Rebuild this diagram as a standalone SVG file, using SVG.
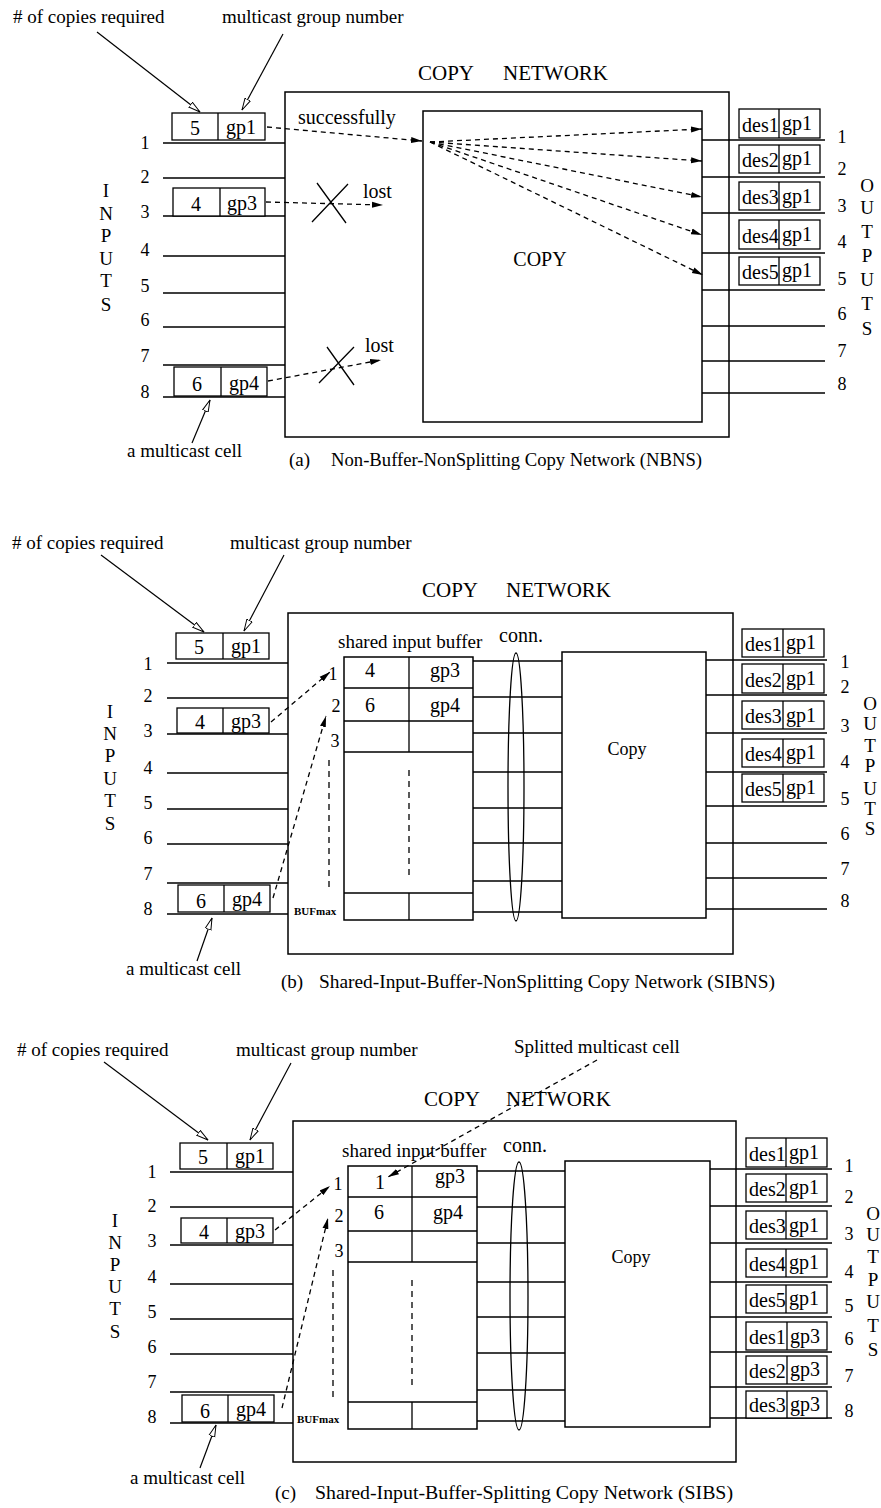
<svg xmlns="http://www.w3.org/2000/svg" width="881" height="1508" viewBox="0 0 881 1508">
<style>
text{font-family:"Liberation Serif","Times New Roman",serif;fill:#000}
.f18{font-size:18px}.f19{font-size:19px}.f20{font-size:20px}.f21{font-size:21px}
.m{text-anchor:middle}
.buf{font-size:11px;font-weight:bold}
.ln{stroke:#000;stroke-width:1.3;fill:none}
.bx{stroke:#000;stroke-width:1.5;fill:none}
.cl{stroke:#000;stroke-width:1.3;fill:#fff}
.dl{stroke:#000;stroke-width:1.3;fill:none;stroke-dasharray:5 4}
.dv{stroke:#000;stroke-width:1.3;fill:none;stroke-dasharray:6 5}
.ar{stroke:#000;stroke-width:1.2;fill:none}
</style>
<defs>
<marker id="ah" markerUnits="userSpaceOnUse" markerWidth="12" markerHeight="8" refX="11" refY="4" orient="auto"><path d="M0,1 L11,4 L0,7 z" fill="#000"/></marker>
<marker id="oh" markerUnits="userSpaceOnUse" markerWidth="13" markerHeight="8" refX="12" refY="4" orient="auto"><path d="M0,1 L12,4 L0,7 z" fill="#fff" stroke="#000" stroke-width="1"/></marker>
</defs>
<rect width="881" height="1508" fill="#fff"/>

<!-- ================= PANEL A ================= -->
<g id="a-frame">
<text class="f19" x="13" y="23"># of copies required</text>
<text class="f19" x="222" y="23">multicast group number</text>
<text class="f21" x="418" y="80">COPY</text>
<text class="f21" x="503" y="80">NETWORK</text>
<rect class="bx" x="285" y="92" width="444" height="345"/>
<text class="f19" x="127" y="457">a multicast cell</text>
<text class="f19" x="289" y="466">(a)</text>
<text class="f19" x="331" y="466" textLength="371" lengthAdjust="spacingAndGlyphs">Non-Buffer-NonSplitting Copy Network (NBNS)</text>
</g>
<g id="a-copy">
<rect class="bx" x="423" y="111" width="279" height="311"/>
<text class="f20 m" x="540" y="266">COPY</text>
</g>
<g id="a-inputs">
<path class="ln" d="M163,143H285M163,178H285M163,216H285M163,256H285M163,293H285M163,327H285M163,365H285M163,397H285"/>
<text class="f18 m" x="145" y="149">1</text><text class="f18 m" x="145" y="183">2</text>
<text class="f18 m" x="145" y="218">3</text><text class="f18 m" x="145" y="256">4</text>
<text class="f18 m" x="145" y="292">5</text><text class="f18 m" x="145" y="326">6</text>
<text class="f18 m" x="145" y="362">7</text><text class="f18 m" x="145" y="398">8</text>
<text class="f19 m" x="106" y="197">I</text><text class="f19 m" x="106" y="220">N</text>
<text class="f19 m" x="106" y="242">P</text><text class="f19 m" x="106" y="265">U</text>
<text class="f19 m" x="106" y="287">T</text><text class="f19 m" x="106" y="311">S</text>
</g>
<g id="a-cell1"><rect class="cl" x="172" y="113" width="93" height="27"/><path class="ln" d="M218,113V140"/>
<text class="f20 m" x="195" y="135">5</text><text class="f20 m" x="241" y="134">gp1</text></g>
<g id="a-cell3"><rect class="cl" x="173" y="188" width="92" height="28"/><path class="ln" d="M220,188V216"/>
<text class="f20 m" x="196" y="211">4</text><text class="f20 m" x="242" y="210">gp3</text></g>
<g id="a-cell8"><rect class="cl" x="174" y="367" width="93" height="29"/><path class="ln" d="M221,367V396"/>
<text class="f20 m" x="197" y="391">6</text><text class="f20 m" x="244" y="390">gp4</text></g>
<g id="a-marks">
<text class="f20" x="298" y="124">successfully</text>
<path class="ln" d="M312,222L348,184M317,183L346,223"/>
<text class="f20" x="363" y="198">lost</text>
<path class="ln" d="M319,383L354,347M327,347L354,385"/>
<text class="f20" x="365" y="352">lost</text>
</g>
<g id="a-outputs">
<path class="ln" d="M702,140H825M702,177H825M702,213H825M702,253H825M702,290H825M702,326H825M702,361H825M702,393H825"/>
<g><rect class="cl" x="739" y="109" width="81" height="29"/><path class="ln" d="M779,109V138"/><text class="f20" x="742" y="132">des1</text><text class="f20" x="782" y="130">gp1</text></g>
<g><rect class="cl" x="739" y="145" width="81" height="28"/><path class="ln" d="M779,145V173"/><text class="f20" x="742" y="167">des2</text><text class="f20" x="782" y="165">gp1</text></g>
<g><rect class="cl" x="739" y="182" width="81" height="28"/><path class="ln" d="M779,182V210"/><text class="f20" x="742" y="204">des3</text><text class="f20" x="782" y="203">gp1</text></g>
<g><rect class="cl" x="739" y="220" width="81" height="29"/><path class="ln" d="M779,220V249"/><text class="f20" x="742" y="243">des4</text><text class="f20" x="782" y="241">gp1</text></g>
<g><rect class="cl" x="739" y="257" width="81" height="28"/><path class="ln" d="M779,257V285"/><text class="f20" x="742" y="279">des5</text><text class="f20" x="782" y="277">gp1</text></g>
<text class="f18 m" x="842" y="143">1</text><text class="f18 m" x="842" y="175">2</text>
<text class="f18 m" x="842" y="212">3</text><text class="f18 m" x="842" y="248">4</text>
<text class="f18 m" x="842" y="285">5</text><text class="f18 m" x="842" y="320">6</text>
<text class="f18 m" x="842" y="357">7</text><text class="f18 m" x="842" y="390">8</text>
<text class="f19 m" x="867" y="192">O</text><text class="f19 m" x="867" y="214">U</text>
<text class="f19 m" x="867" y="238">T</text><text class="f19 m" x="867" y="262">P</text>
<text class="f19 m" x="867" y="286">U</text><text class="f19 m" x="867" y="310">T</text>
<text class="f19 m" x="867" y="335">S</text>
</g>

<!-- ================= PANEL B ================= -->
<g id="b-frame">
<text class="f19" x="12" y="549"># of copies required</text>
<text class="f19" x="230" y="549">multicast group number</text>
<text class="f21" x="422" y="597">COPY</text>
<text class="f21" x="506" y="597">NETWORK</text>
<rect class="bx" x="288" y="613" width="445" height="341"/>
<text class="f19" x="126" y="975">a multicast cell</text>
<text class="f19" x="281" y="988">(b)</text>
<text class="f19" x="319" y="988" textLength="456" lengthAdjust="spacingAndGlyphs">Shared-Input-Buffer-NonSplitting Copy Network (SIBNS)</text>
</g>
<g id="b-inputs">
<path class="ln" d="M167,663H288M167,698H288M167,734H288M167,773H288M167,809H288M167,844H288M167,883H288M167,914H288"/>
<text class="f18 m" x="148" y="670">1</text><text class="f18 m" x="148" y="702">2</text>
<text class="f18 m" x="148" y="737">3</text><text class="f18 m" x="148" y="774">4</text>
<text class="f18 m" x="148" y="809">5</text><text class="f18 m" x="148" y="844">6</text>
<text class="f18 m" x="148" y="880">7</text><text class="f18 m" x="148" y="915">8</text>
<text class="f19 m" x="110" y="718">I</text><text class="f19 m" x="110" y="740">N</text>
<text class="f19 m" x="110" y="762">P</text><text class="f19 m" x="110" y="785">U</text>
<text class="f19 m" x="110" y="807">T</text><text class="f19 m" x="110" y="830">S</text>
</g>
<g id="b-cell1"><rect class="cl" x="176" y="633" width="93" height="26"/><path class="ln" d="M223,633V659"/>
<text class="f20 m" x="199" y="654">5</text><text class="f20 m" x="246" y="653">gp1</text></g>
<g id="b-cell3"><rect class="cl" x="177" y="708" width="92" height="25"/><path class="ln" d="M223,708V733"/>
<text class="f20 m" x="200" y="729">4</text><text class="f20 m" x="246" y="728">gp3</text></g>
<g id="b-cell8"><rect class="cl" x="178" y="885" width="92" height="27"/><path class="ln" d="M224,885V912"/>
<text class="f20 m" x="201" y="908">6</text><text class="f20 m" x="247" y="906">gp4</text></g>
<g id="b-buffer">
<text class="f19" x="338" y="648">shared input buffer</text>
<rect class="bx" x="344" y="657" width="129" height="263"/>
<path class="ln" d="M344,688H473M344,721H473M344,752H473M344,893H473M409,657V752M409,893V920"/>
<path class="dv" d="M409,770V878M329,760V892"/>
<text class="f18 m" x="333" y="680">1</text><text class="f18 m" x="336" y="712">2</text><text class="f18 m" x="335" y="747">3</text>
<text class="f20 m" x="370" y="677">4</text><text class="f20 m" x="445" y="677">gp3</text>
<text class="f20 m" x="370" y="712">6</text><text class="f20 m" x="445" y="712">gp4</text>
<text class="buf" x="294" y="915">BUFmax</text>
</g>
<g id="b-conn">
<path class="ln" d="M473,661H562M473,697H562M473,733H562M473,772H562M473,808H562M473,843H562M473,881H562M473,912H562"/>
<ellipse class="ln" cx="516" cy="787" rx="8" ry="134"/>
<text class="f20" x="499" y="642">conn.</text>
</g>
<g id="b-copy">
<rect class="bx" x="562" y="652" width="144" height="266"/>
<text class="f18 m" x="627" y="755">Copy</text>
</g>
<g id="b-outputs">
<path class="ln" d="M706,660H827M706,695H827M706,733H827M706,772H827M706,806H827M706,843H827M706,878H827M706,909H827"/>
<g><rect class="cl" x="742" y="629" width="82" height="28"/><path class="ln" d="M783,629V657"/><text class="f20" x="745" y="651">des1</text><text class="f20" x="786" y="649">gp1</text></g>
<g><rect class="cl" x="742" y="664" width="82" height="29"/><path class="ln" d="M783,664V693"/><text class="f20" x="745" y="687">des2</text><text class="f20" x="786" y="685">gp1</text></g>
<g><rect class="cl" x="742" y="701" width="82" height="28"/><path class="ln" d="M783,701V729"/><text class="f20" x="745" y="723">des3</text><text class="f20" x="786" y="722">gp1</text></g>
<g><rect class="cl" x="742" y="739" width="82" height="28"/><path class="ln" d="M783,739V767"/><text class="f20" x="745" y="761">des4</text><text class="f20" x="786" y="759">gp1</text></g>
<g><rect class="cl" x="742" y="774" width="82" height="28"/><path class="ln" d="M783,774V802"/><text class="f20" x="745" y="796">des5</text><text class="f20" x="786" y="794">gp1</text></g>
<text class="f18 m" x="845" y="668">1</text><text class="f18 m" x="845" y="693">2</text>
<text class="f18 m" x="845" y="732">3</text><text class="f18 m" x="845" y="768">4</text>
<text class="f18 m" x="845" y="805">5</text><text class="f18 m" x="845" y="840">6</text>
<text class="f18 m" x="845" y="875">7</text><text class="f18 m" x="845" y="907">8</text>
<text class="f19 m" x="870" y="710">O</text><text class="f19 m" x="870" y="730">U</text>
<text class="f19 m" x="870" y="752">T</text><text class="f19 m" x="870" y="772">P</text>
<text class="f19 m" x="870" y="795">U</text><text class="f19 m" x="870" y="815">T</text>
<text class="f19 m" x="870" y="835">S</text>
</g>

<!-- ================= PANEL C ================= -->
<g id="c-frame">
<text class="f19" x="17" y="1056"># of copies required</text>
<text class="f19" x="236" y="1056">multicast group number</text>
<text class="f19" x="514" y="1053">Splitted multicast cell</text>
<text class="f21" x="424" y="1106">COPY</text>
<text class="f21" x="506" y="1106">NETWORK</text>
<rect class="bx" x="293" y="1121" width="443" height="341"/>
<text class="f19" x="130" y="1484">a multicast cell</text>
<text class="f19" x="275" y="1499">(c)</text>
<text class="f19" x="315" y="1499" textLength="418" lengthAdjust="spacingAndGlyphs">Shared-Input-Buffer-Splitting Copy Network (SIBS)</text>
</g>
<g id="c-inputs">
<path class="ln" d="M170,1172H293M170,1207H293M170,1245H293M170,1284H293M170,1319H293M170,1354H293M170,1392H293M170,1423H293"/>
<text class="f18 m" x="152" y="1178">1</text><text class="f18 m" x="152" y="1212">2</text>
<text class="f18 m" x="152" y="1247">3</text><text class="f18 m" x="152" y="1283">4</text>
<text class="f18 m" x="152" y="1318">5</text><text class="f18 m" x="152" y="1353">6</text>
<text class="f18 m" x="152" y="1388">7</text><text class="f18 m" x="152" y="1423">8</text>
<text class="f19 m" x="115" y="1227">I</text><text class="f19 m" x="115" y="1249">N</text>
<text class="f19 m" x="115" y="1271">P</text><text class="f19 m" x="115" y="1293">U</text>
<text class="f19 m" x="115" y="1315">T</text><text class="f19 m" x="115" y="1338">S</text>
</g>
<g id="c-cell1"><rect class="cl" x="180" y="1143" width="93" height="26"/><path class="ln" d="M227,1143V1169"/>
<text class="f20 m" x="203" y="1164">5</text><text class="f20 m" x="250" y="1163">gp1</text></g>
<g id="c-cell3"><rect class="cl" x="181" y="1218" width="92" height="25"/><path class="ln" d="M227,1218V1243"/>
<text class="f20 m" x="204" y="1239">4</text><text class="f20 m" x="250" y="1238">gp3</text></g>
<g id="c-cell8"><rect class="cl" x="182" y="1395" width="92" height="27"/><path class="ln" d="M228,1395V1422"/>
<text class="f20 m" x="205" y="1418">6</text><text class="f20 m" x="251" y="1416">gp4</text></g>
<g id="c-buffer">
<text class="f19" x="342" y="1157">shared input buffer</text>
<rect class="bx" x="348" y="1166" width="129" height="263"/>
<path class="ln" d="M348,1197H477M348,1231H477M348,1262H477M348,1402H477M412,1166V1262M412,1402V1429"/>
<path class="dv" d="M412,1280V1387M333,1270V1400"/>
<text class="f18 m" x="338" y="1190">1</text><text class="f18 m" x="339" y="1222">2</text><text class="f18 m" x="339" y="1257">3</text>
<text class="f20 m" x="380" y="1189">1</text><text class="f20 m" x="450" y="1183">gp3</text>
<text class="f20 m" x="379" y="1219">6</text><text class="f20 m" x="448" y="1219">gp4</text>
<text class="buf" x="297" y="1423">BUFmax</text>
</g>
<g id="c-conn">
<path class="ln" d="M477,1171H565M477,1207H565M477,1243H565M477,1282H565M477,1317H565M477,1353H565M477,1390H565M477,1421H565"/>
<ellipse class="ln" cx="519" cy="1296" rx="9" ry="134"/>
<text class="f20" x="503" y="1152">conn.</text>
</g>
<g id="c-copy">
<rect class="bx" x="565" y="1161" width="145" height="266"/>
<text class="f18 m" x="631" y="1263">Copy</text>
</g>
<g id="c-outputs">
<path class="ln" d="M710,1169H832M710,1206H832M710,1243H832M710,1282H832M710,1317H832M710,1352H832M710,1387H832M710,1418H832"/>
<g><rect class="cl" x="746" y="1138" width="81" height="29"/><path class="ln" d="M786,1138V1167"/><text class="f20" x="749" y="1161">des1</text><text class="f20" x="789" y="1159">gp1</text></g>
<g><rect class="cl" x="746" y="1174" width="81" height="28"/><path class="ln" d="M786,1174V1202"/><text class="f20" x="749" y="1196">des2</text><text class="f20" x="789" y="1194">gp1</text></g>
<g><rect class="cl" x="746" y="1211" width="81" height="28"/><path class="ln" d="M786,1211V1239"/><text class="f20" x="749" y="1233">des3</text><text class="f20" x="789" y="1232">gp1</text></g>
<g><rect class="cl" x="746" y="1249" width="81" height="28"/><path class="ln" d="M786,1249V1277"/><text class="f20" x="749" y="1271">des4</text><text class="f20" x="789" y="1269">gp1</text></g>
<g><rect class="cl" x="746" y="1285" width="81" height="28"/><path class="ln" d="M786,1285V1313"/><text class="f20" x="749" y="1307">des5</text><text class="f20" x="789" y="1305">gp1</text></g>
<g><rect class="cl" x="746" y="1322" width="81" height="28"/><path class="ln" d="M787,1322V1350"/><text class="f20" x="749" y="1344">des1</text><text class="f20" x="790" y="1343">gp3</text></g>
<g><rect class="cl" x="746" y="1356" width="81" height="28"/><path class="ln" d="M787,1356V1384"/><text class="f20" x="749" y="1378">des2</text><text class="f20" x="790" y="1376">gp3</text></g>
<g><rect class="cl" x="746" y="1391" width="81" height="27"/><path class="ln" d="M787,1391V1418"/><text class="f20" x="749" y="1412">des3</text><text class="f20" x="790" y="1411">gp3</text></g>
<text class="f18 m" x="849" y="1172">1</text><text class="f18 m" x="849" y="1203">2</text>
<text class="f18 m" x="849" y="1240">3</text><text class="f18 m" x="849" y="1278">4</text>
<text class="f18 m" x="849" y="1312">5</text><text class="f18 m" x="849" y="1345">6</text>
<text class="f18 m" x="849" y="1382">7</text><text class="f18 m" x="849" y="1417">8</text>
<text class="f19 m" x="873" y="1220">O</text><text class="f19 m" x="873" y="1241">U</text>
<text class="f19 m" x="873" y="1263">T</text><text class="f19 m" x="873" y="1286">P</text>
<text class="f19 m" x="873" y="1308">U</text><text class="f19 m" x="873" y="1332">T</text>
<text class="f19 m" x="873" y="1356">S</text>
</g>

<!-- ================= CONNECTORS ================= -->
<g id="connectors">
<path class="ar" marker-end="url(#oh)" d="M97,32L200,112"/>
<path class="ar" marker-end="url(#oh)" d="M283,34L242,110"/>
<path class="ar" marker-end="url(#oh)" d="M192,443L210,400"/>
<path class="dl" marker-end="url(#ah)" d="M267,127L422,141"/>
<path class="dl" marker-end="url(#ah)" d="M430,142L702,129"/>
<path class="dl" marker-end="url(#ah)" d="M430,142L702,161"/>
<path class="dl" marker-end="url(#ah)" d="M430,142L702,197"/>
<path class="dl" marker-end="url(#ah)" d="M430,142L702,235"/>
<path class="dl" marker-end="url(#ah)" d="M430,142L703,275"/>
<path class="dl" marker-end="url(#ah)" d="M266,202L383,205"/>
<path class="dl" marker-end="url(#ah)" d="M268,381L381,360"/>

<path class="ar" marker-end="url(#oh)" d="M101,555L204,632"/>
<path class="ar" marker-end="url(#oh)" d="M284,555L244,631"/>
<path class="ar" marker-end="url(#oh)" d="M197,961L212,918"/>
<path class="dl" marker-end="url(#ah)" d="M271,722L330,672"/>
<path class="dl" marker-end="url(#ah)" d="M273,898L326,716"/>

<path class="ar" marker-end="url(#oh)" d="M104,1062L208,1140"/>
<path class="ar" marker-end="url(#oh)" d="M291,1063L250,1140"/>
<path class="ar" marker-end="url(#oh)" d="M200,1468L216,1425"/>
<path class="dl" marker-end="url(#ah)" d="M597,1060L388,1177"/>
<path class="dl" marker-end="url(#ah)" d="M275,1230L330,1186"/>
<path class="dl" marker-end="url(#ah)" d="M282,1408L328,1218"/>
</g>
</svg>
